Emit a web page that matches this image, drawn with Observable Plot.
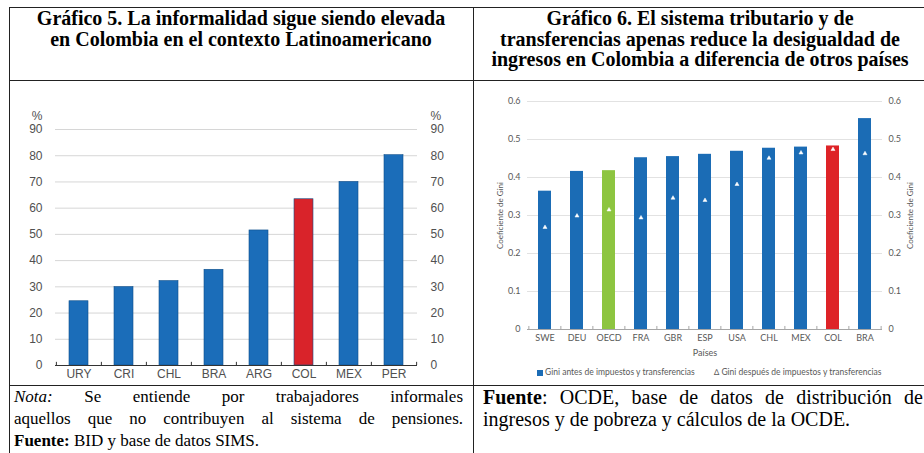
<!DOCTYPE html>
<html><head><meta charset="utf-8">
<script src="https://cdn.jsdelivr.net/npm/d3@7"></script>
<script src="https://cdn.jsdelivr.net/npm/@observablehq/plot@0.6"></script>
<style>
html,body{margin:0;padding:0;background:#fff;overflow:hidden}
#page{position:relative;width:924px;height:453px;overflow:hidden;background:#fff}
.hl{position:absolute;height:1px;background:#222}
.vl{position:absolute;width:1px;background:#222}
.title{position:absolute;font:bold 20px/20.5px "Liberation Serif","Times New Roman",serif;text-align:center;color:#000;white-space:nowrap}
.note{position:absolute;font:17px/22px "Liberation Serif","Times New Roman",serif;color:#000}
.note div{white-space:nowrap}
.note .just{text-align:justify;text-align-last:justify;white-space:normal}
.chart{position:absolute}
.legend{position:absolute;font:8.5px Lato,sans-serif;color:#595959;white-space:nowrap}
</style></head><body>
<div id="page">
  <div class="hl" style="top:7px;left:9px;width:930px"></div>
  <div class="hl" style="top:80px;left:9px;width:930px"></div>
  <div class="hl" style="top:385px;left:9px;width:930px"></div>
  <div class="vl" style="left:9px;top:7px;height:460px"></div>
  <div class="vl" style="left:473px;top:7px;height:460px"></div>

  <div class="title" style="left:9px;width:464px;top:8px">Gráfico 5. La informalidad sigue siendo elevada<br>en Colombia en el contexto Latinoamericano</div>
  <div class="title" style="left:474px;width:452px;top:8px">Gráfico 6. El sistema tributario y de<br>transferencias apenas reduce la desigualdad de<br>ingresos en Colombia a diferencia de otros países</div>

  <div id="c5" class="chart" style="left:9px;top:81px"></div>
  <div id="c6" class="chart" style="left:474px;top:81px"></div>

  <div class="legend" style="left:537px;top:367px"><span style="display:inline-block;width:6px;height:6px;background:#1b6cb5;margin-right:2px;vertical-align:-0.5px"></span>Gini antes de impuestos y transferencias</div>
  <div class="legend" style="left:714px;top:367px">∆ Gini después de impuestos y transferencias</div>

  <div class="note" style="left:14px;width:449px;top:386px">
    <div class="just"><i>Nota:</i> Se entiende por trabajadores informales</div>
    <div class="just">aquellos que no contribuyen al sistema de pensiones.</div>
    <div><b>Fuente:</b> BID y base de datos SIMS.</div>
  </div>
  <div class="note" style="left:483px;width:440px;top:386px;font-size:20px">
    <div class="just"><b>Fuente</b>: OCDE, base de datos de distribución de</div>
    <div>ingresos y de pobreza y cálculos de la OCDE.</div>
  </div>
</div>
<script>
// ---- Gráfico 5 data ----
const countries5 = ["URY", "CRI", "CHL", "BRA", "ARG", "COL", "MEX", "PER"];
const informality = [24.5, 29.9, 32.2, 36.5, 51.5, 63.4, 70.0, 80.2];
const yTicks5 = [0, 10, 20, 30, 40, 50, 60, 70, 80, 90];
const highlight5 = "COL";

// ---- Gráfico 6 data ----
const countries6 = ["SWE", "DEU", "OECD", "FRA", "GBR", "ESP", "USA", "CHL", "MEX", "COL", "BRA"];
const giniBefore = [0.364, 0.416, 0.418, 0.452, 0.455, 0.461, 0.469, 0.477, 0.480, 0.483, 0.555];
const giniAfter = [0.269, 0.299, 0.315, 0.294, 0.346, 0.340, 0.382, 0.451, 0.465, 0.474, 0.463];
const yTicks6 = [0, 0.1, 0.2, 0.3, 0.4, 0.5, 0.6];

// ---- Chart 5 ----
{
  const W = 464, H = 304, ml = 46, mr = 56, mt = 48, mb = 20;
  const data = countries5.map((c, i) => ({country: c, value: informality[i], kind: c === highlight5 ? "hi" : "base"}));
  const step = (W - ml - mr) / countries5.length;
  const last = countries5[countries5.length - 1];
  const chart = Plot.plot({
    width: W, height: H, marginLeft: ml, marginRight: mr, marginTop: mt, marginBottom: mb,
    style: {fontFamily: "'Liberation Sans', Arial, sans-serif", fontSize: "12px", color: "#505050", background: "transparent", overflow: "visible"},
    x: {domain: countries5, paddingInner: 0.58, paddingOuter: 0.29, label: null},
    y: {domain: [0, 90], label: null},
    color: {domain: ["base", "hi"], range: ["#1b6db9", "#d9232a"]},
    marks: [
      Plot.gridY(yTicks5.filter(d => d > 0), {stroke: "#d6d6d6", strokeOpacity: 1}),
      Plot.barY(data, {x: "country", y: "value", fill: "kind", stroke: "#0f4f8a", strokeWidth: 0.6}),
      Plot.axisY(yTicks5, {anchor: "left", tickSize: 0, tickPadding: 13, label: null}),
      Plot.axisY(yTicks5, {anchor: "right", tickSize: 0, tickPadding: 13, label: null}),
      Plot.axisX({tickSize: 0, tickPadding: 4, label: null}),
      Plot.ruleY([0], {stroke: "#333", strokeWidth: 1}),
      Plot.ruleX(countries5, {x: d => d, y1: 0, y2: 1.2, dx: -step / 2, stroke: "#333"}),
      Plot.ruleX([last], {x: d => d, y1: 0, y2: 1.2, dx: step / 2, stroke: "#333"}),
      Plot.text(["%"], {frameAnchor: "top-left", dx: -13, dy: -18, textAnchor: "end"}),
      Plot.text(["%"], {frameAnchor: "top-right", dx: 13, dy: -18, textAnchor: "start"})
    ]
  });
  document.getElementById("c5").appendChild(chart);
}

// ---- Chart 6 ----
{
  const W = 450, H = 304, ml = 53, mr = 42, mt = 20, mb = 56;
  const data = countries6.map((c, i) => ({
    country: c, before: giniBefore[i], after: giniAfter[i],
    kind: c === "OECD" ? "oecd" : c === "COL" ? "col" : "base"
  }));
  const step = (W - ml - mr) / countries6.length;
  const last = countries6[countries6.length - 1];
  const fmt = d => String(+d.toFixed(1));
  const chart = Plot.plot({
    width: W, height: H, marginLeft: ml, marginRight: mr, marginTop: mt, marginBottom: mb,
    style: {fontFamily: "Lato, 'Open Sans', sans-serif", fontSize: "9px", color: "#595959", background: "transparent", overflow: "visible"},
    x: {domain: countries6, paddingInner: 0.59, paddingOuter: 0.295, label: null},
    y: {domain: [0, 0.6], label: null},
    color: {domain: ["base", "oecd", "col"], range: ["#1b6cb5", "#8dc540", "#de2327"]},
    marks: [
      Plot.gridY(yTicks6.filter(d => d > 0), {stroke: "#e2e2e2", strokeOpacity: 1}),
      Plot.barY(data, {x: "country", y: "before", fill: "kind"}),
      Plot.dot(data, {x: "country", y: "after", symbol: "triangle", r: 1.5, fill: "white", stroke: "white", strokeWidth: 0.5}),
      Plot.axisY(yTicks6, {anchor: "left", tickSize: 0, tickPadding: 7, tickFormat: fmt, label: null}),
      Plot.axisY(yTicks6, {anchor: "right", tickSize: 0, tickPadding: 6, tickFormat: fmt, label: null}),
      Plot.axisX({tickSize: 0, tickPadding: 5, label: null}),
      Plot.ruleY([0], {stroke: "#a6a6a6", strokeWidth: 1}),
      Plot.ruleX(countries6, {x: d => d, y1: 0, y2: 0.008, dx: -step / 2, stroke: "#a6a6a6"}),
      Plot.ruleX([last], {x: d => d, y1: 0, y2: 0.008, dx: step / 2, stroke: "#a6a6a6"}),
      Plot.text(["Países"], {frameAnchor: "bottom", dy: 26}),
      Plot.text(["Coeficiente de Gini"], {frameAnchor: "left", textAnchor: "middle", dx: -27, rotate: -90, fontSize: 8}),
      Plot.text(["Coeficiente de Gini"], {frameAnchor: "right", textAnchor: "middle", dx: 28, rotate: -90, fontSize: 8})
    ]
  });
  document.getElementById("c6").appendChild(chart);
}
</script>
</body></html>
